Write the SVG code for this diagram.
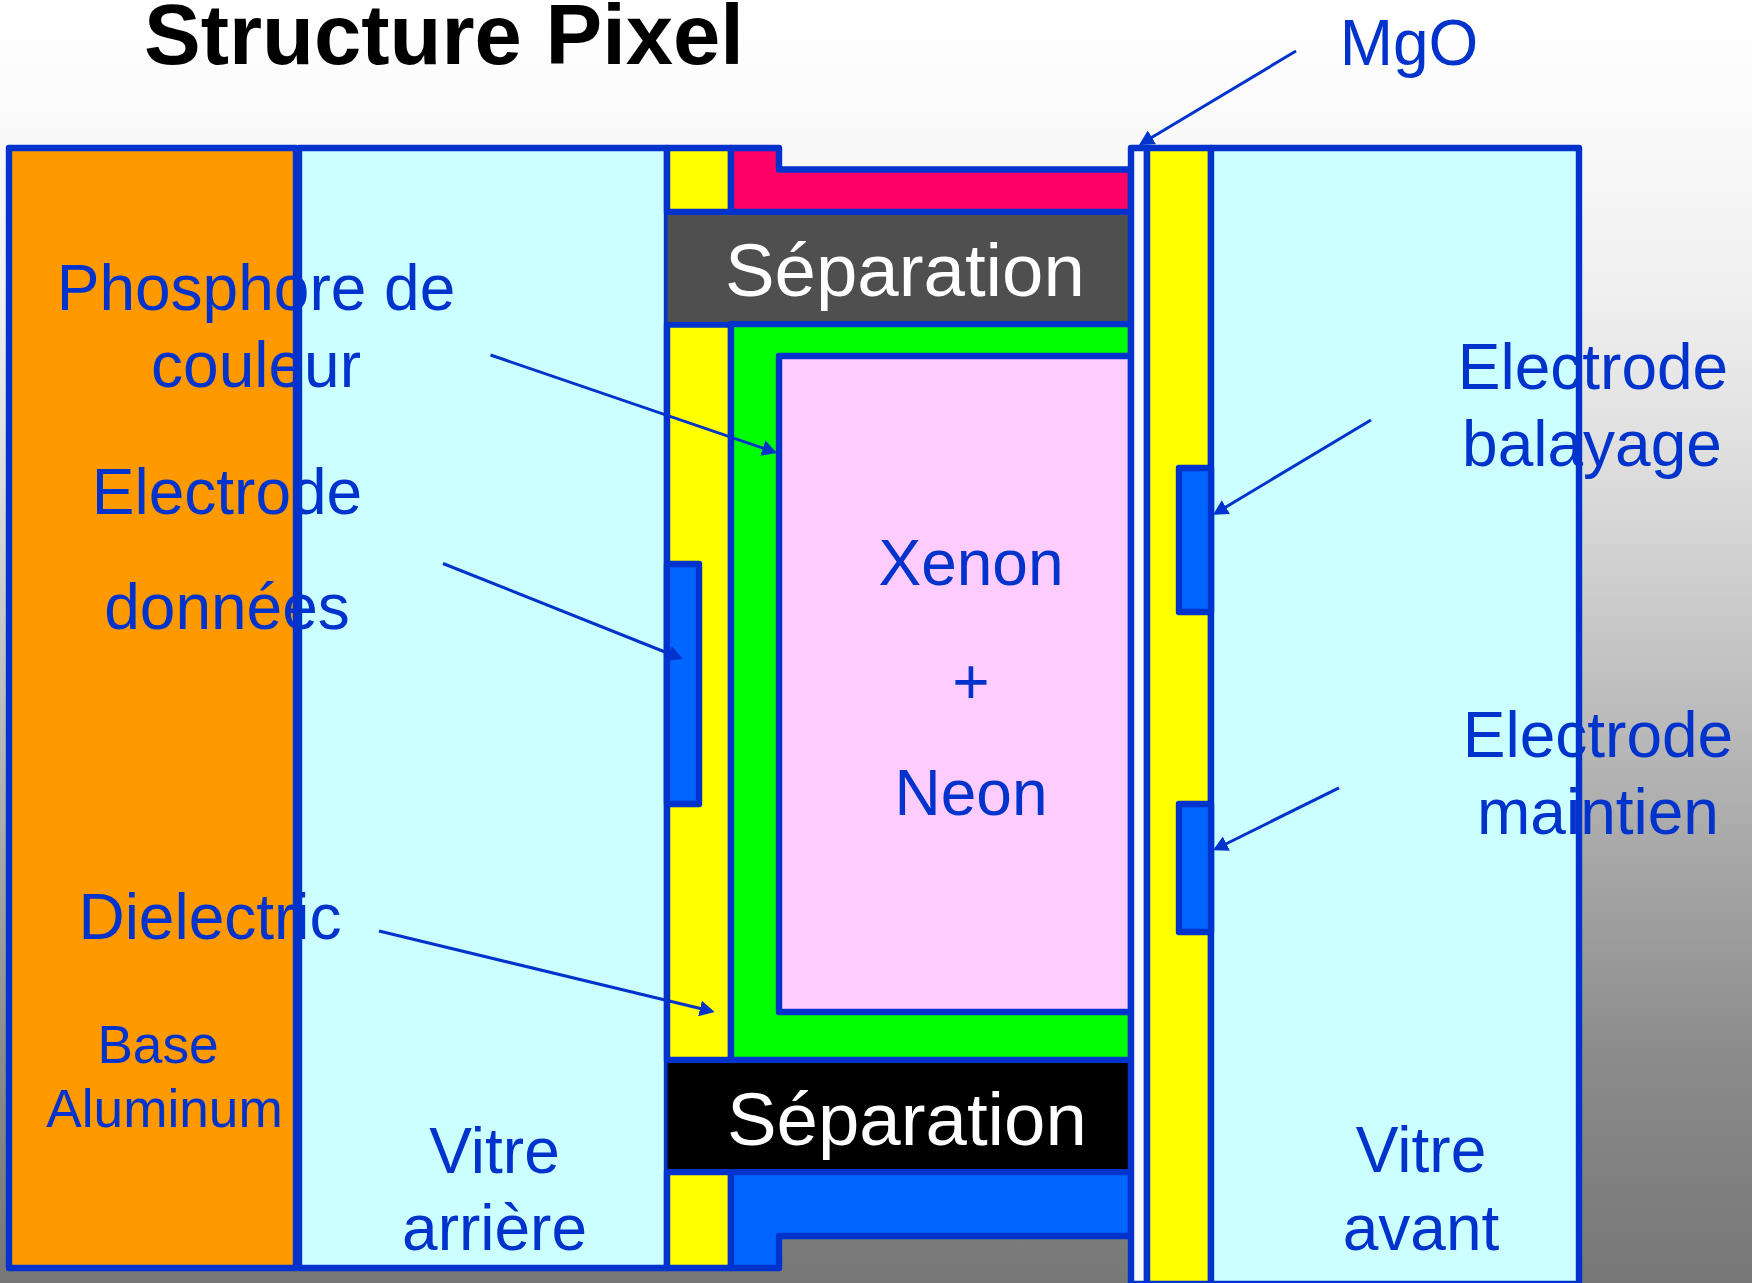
<svg xmlns="http://www.w3.org/2000/svg" width="1752" height="1283" viewBox="0 0 1752 1283">
<style>
.o{stroke:#0033cc;stroke-width:6.4;stroke-linejoin:round}
.c{fill:none;stroke:#0033cc;stroke-width:3}
text{font-family:"Liberation Sans",Arial,sans-serif}
.l{fill:#0033cc;font-size:64px;text-anchor:middle}
.s{fill:#0033cc;font-size:53.2px;text-anchor:middle}
.w{fill:#ffffff;font-size:74.4px}
</style>
<defs>
<linearGradient id="bg" x1="0" y1="0" x2="0" y2="1">
<stop offset="0" stop-color="#ffffff"/>
<stop offset="0.08" stop-color="#fbfbfb"/>
<stop offset="0.234" stop-color="#efefef"/>
<stop offset="0.374" stop-color="#dcdcdc"/>
<stop offset="0.826" stop-color="#8b8b8b"/>
<stop offset="1" stop-color="#777777"/>
</linearGradient>
<marker id="a" markerUnits="userSpaceOnUse" markerWidth="16" markerHeight="18" refX="12" refY="9" orient="auto">
<path d="M0,1 L15,9 L0,17 Z" fill="#0033cc"/>
</marker>
</defs>
<rect id="background" width="1752" height="1283" fill="url(#bg)"/>
<g id="base-aluminum"><rect class="o" x="9" y="148" width="287" height="1120" fill="#ff9900"/></g>
<g id="vitre-arriere"><rect class="o" x="299" y="148" width="368" height="1120" fill="#ccffff"/></g>
<g id="dielectric-arriere">
<rect class="o" x="667" y="148" width="64" height="64" fill="#ffff00"/>
<rect class="o" x="667" y="324.5" width="64" height="735.5" fill="#ffff00"/>
<rect class="o" x="667" y="1172" width="64" height="96" fill="#ffff00"/>
</g>
<g id="phosphore-rouge"><path class="o" d="M731,148 H779 V169.5 H1131 V212 H731 Z" fill="#ff0066"/></g>
<g id="phosphore-vert"><path class="o" d="M731,324 H1131 V1060 H731 Z" fill="#00ff00"/></g>
<g id="phosphore-bleu"><path class="o" d="M731,1172 H1131 V1236 H779 V1268 H731 Z" fill="#0066ff"/></g>
<g id="gaz"><rect class="o" x="779" y="356" width="352" height="656" fill="#ffccff"/></g>
<g id="separation-haut">
<path d="M667.5,215 H1128 V321 H729 V322 H667.5 Z" fill="#4f4f4f"/>
<text class="w" x="725" y="296">Séparation</text>
</g>
<g id="separation-bas">
<rect x="667.5" y="1063" width="460.5" height="106" fill="#000000"/>
<text class="w" x="727" y="1145">Séparation</text>
</g>
<g id="electrode-donnees"><rect class="o" x="667" y="564" width="32" height="240" fill="#0066ff"/></g>
<g id="mgo"><rect class="o" x="1131" y="148" width="16" height="1136" fill="#f9f9f9"/></g>
<g id="dielectric-avant"><rect class="o" x="1147" y="148" width="64" height="1136" fill="#ffff00"/></g>
<g id="vitre-avant"><rect class="o" x="1211" y="148" width="368" height="1136" fill="#ccffff"/></g>
<g id="electrode-balayage"><rect class="o" x="1179" y="468" width="32" height="144" fill="#0066ff"/></g>
<g id="electrode-maintien"><rect class="o" x="1179" y="804" width="32" height="128" fill="#0066ff"/></g>
<g id="connectors">
<line class="c" x1="1296" y1="51" x2="1141.6" y2="143.5" marker-end="url(#a)"/>
<line class="c" x1="490.5" y1="355" x2="774.2" y2="452" marker-end="url(#a)"/>
<line class="c" x1="443" y1="563.5" x2="680" y2="658" marker-end="url(#a)"/>
<line class="c" x1="379" y1="931" x2="711.7" y2="1011.3" marker-end="url(#a)"/>
<line class="c" x1="1371" y1="420" x2="1215.6" y2="513.2" marker-end="url(#a)"/>
<line class="c" x1="1339" y1="787.8" x2="1215.7" y2="849" marker-end="url(#a)"/>
</g>
<g id="labels">
<text x="144" y="64" font-size="85" font-weight="bold" fill="#000000">Structure Pixel</text>
<text class="l" x="1409" y="65">MgO</text>
<text class="l" x="256" y="310">Phosphore de</text>
<text class="l" x="256" y="387">couleur</text>
<text class="l" x="227" y="514">Electrode</text>
<text class="l" x="227" y="629">données</text>
<text class="l" x="210" y="939">Dielectric</text>
<text class="s" x="158" y="1063">Base</text>
<text class="s" x="164.5" y="1127">Aluminum</text>
<text class="l" x="494.5" y="1173">Vitre</text>
<text class="l" x="494.5" y="1250">arrière</text>
<text class="l" x="971" y="585">Xenon</text>
<text class="l" x="971" y="704">+</text>
<text class="l" x="971" y="815">Neon</text>
<text class="l" x="1593" y="389">Electrode</text>
<text class="l" x="1592" y="466">balayage</text>
<text class="l" x="1598" y="757">Electrode</text>
<text class="l" x="1598" y="834">maintien</text>
<text class="l" x="1421" y="1172">Vitre</text>
<text class="l" x="1421" y="1250">avant</text>
</g>
</svg>
